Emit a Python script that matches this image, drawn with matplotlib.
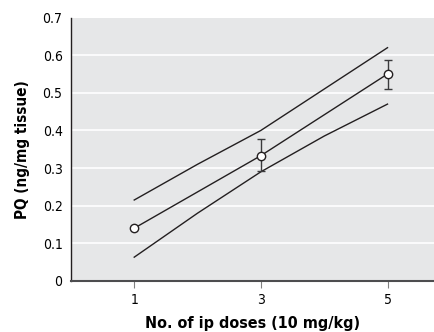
import matplotlib
matplotlib.use("Agg")
import matplotlib.pyplot as plt

# data
doses = [1, 3, 5]
pq_mean = [0.14, 0.333, 0.55]
pq_err_lo = [0.0, 0.042, 0.039]
pq_err_hi = [0.0, 0.044, 0.036]

band_x = [1, 2, 3, 4, 5]
band_upper = [0.215, 0.31, 0.40, 0.51, 0.62]
band_lower = [0.063, 0.18, 0.29, 0.385, 0.47]

xticks = [1, 3, 5]
yticks = [0, 0.1, 0.2, 0.3, 0.4, 0.5, 0.6, 0.7]
ytick_labels = ["0", "0.1", "0.2", "0.3", "0.4", "0.5", "0.6", "0.7"]

plt.rcParams['font.family'] = ['DejaVu Sans']
plt.rcParams['font.stretch'] = 'condensed'

fig = plt.figure(figsize=(4.35, 3.32), dpi=100)
ax = fig.add_axes([0.163, 0.154, 0.837, 0.793])
ax.set_facecolor("#e6e7e8")

for y in yticks[1:-1]:
    ax.axhline(y, color="white", linewidth=1.2, zorder=1)

ax.plot(band_x, band_upper, color="#231f20", linewidth=1.0, zorder=2)
ax.plot(band_x, band_lower, color="#231f20", linewidth=1.0, zorder=2)
ax.plot(doses, pq_mean, color="#231f20", linewidth=1.0, zorder=2)
ax.errorbar(doses, pq_mean, yerr=[pq_err_lo, pq_err_hi], fmt="none",
            ecolor="#3a3a3c", elinewidth=1.0, capsize=2.8, capthick=1.0, zorder=3)
ax.plot(doses, pq_mean, linestyle="none", marker="o", markersize=6,
        markerfacecolor="white", markeredgecolor="#231f20",
        markeredgewidth=1.0, zorder=4)

ax.set_xlim(0, 5.75)
ax.set_ylim(0, 0.7)
ax.set_xticks(xticks)
ax.set_xticklabels([str(t) for t in xticks], fontsize=10)
ax.set_yticks(yticks)
ax.set_yticklabels(ytick_labels, fontsize=10)
ax.tick_params(axis="y", length=0, pad=6)
ax.tick_params(axis="x", length=5, color="#808080", pad=4)

for s in ["top", "right"]:
    ax.spines[s].set_visible(False)
ax.spines["left"].set_color("#231f20")
ax.spines["left"].set_linewidth(1.0)
ax.spines["bottom"].set_color("#4d4d4f")
ax.spines["bottom"].set_linewidth(1.5)

ax.set_xlabel("No. of ip doses (10 mg/kg)", fontsize=11.5, fontweight="bold", labelpad=6)
ax.set_ylabel("PQ (ng/mg tissue)", fontsize=11, fontweight="bold", labelpad=9)

fig.savefig("out.png", dpi=100)
